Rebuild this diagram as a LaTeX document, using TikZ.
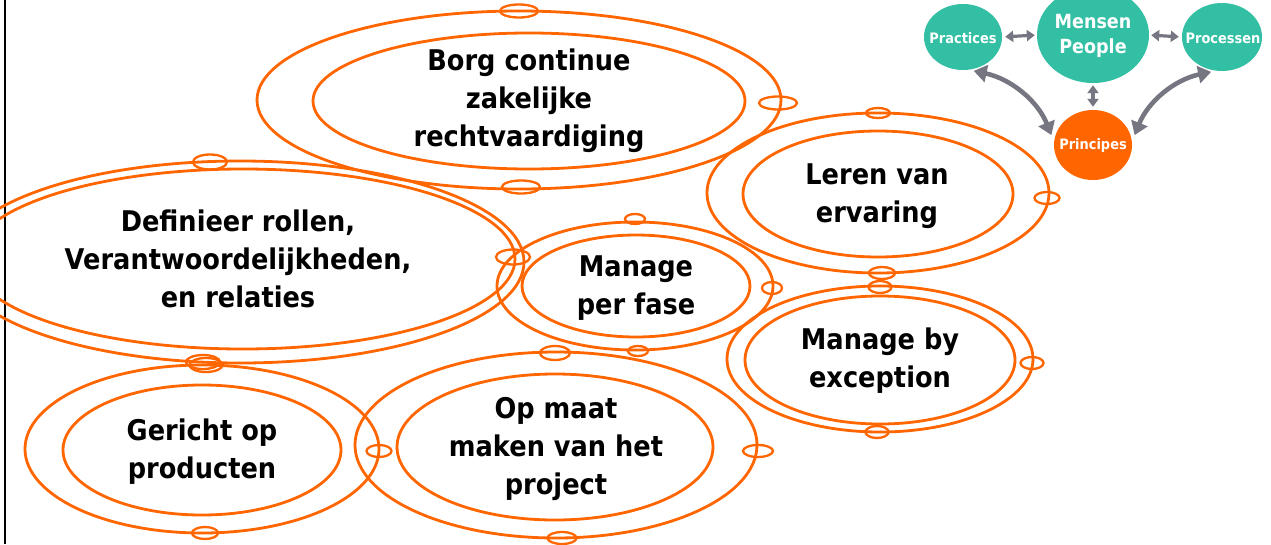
\documentclass[tikz,border=0pt]{standalone}
\usepackage{fontspec}
\setmainfont{DejaVu Sans}[FakeStretch=0.9]
\usetikzlibrary{shapes.geometric,arrows.meta}
\definecolor{orng}{RGB}{255,102,0}
\definecolor{tealc}{RGB}{50,191,164}
\definecolor{arrg}{RGB}{118,118,130}
\begin{document}
\begin{tikzpicture}[x=1pt,y=-1pt,
  oval/.style 2 args={draw=orng,line width=2.8pt,ellipse,inner sep=0pt,minimum width=#1,minimum height=#2},
  tiny/.style 2 args={draw=orng,line width=2.3pt,ellipse,inner sep=0pt,minimum width=#1,minimum height=#2},
  lbl/.style={text=black,align=center,font=\bfseries\fontsize{28.5}{38}\selectfont,inner sep=0pt},
  bub/.style 2 args={fill=#1,ellipse,inner sep=0pt,minimum width=#2},
  btxt/.style={text=white,align=center,font=\bfseries\fontsize{14.4}{18}\selectfont},
  arrA/.style={draw=arrg,line width=4.6pt,{Triangle[length=13pt,width=17pt]}-{Triangle[length=13pt,width=17pt]}},
  arrB/.style={draw=arrg,line width=3.2pt,{Triangle[length=8pt,width=11pt]}-{Triangle[length=8pt,width=11pt]}}]
\useasboundingbox (0,0) rectangle (1271,544);
\clip (0,0) rectangle (1271,544);
\fill[white] (0,0) rectangle (1271,544);
% left frame line
\coordinate (fT) at (5,0);
\coordinate (fB) at (5,544);
\draw[black,line width=2.5pt] (fT) -- (fB);

% Borg continue
\node[oval={524}{178}] (borgO) at (519,100) {};
\node[oval={432}{136}] (borgI) at (529,101) {};
\node[lbl] (borgT) at (529,101) {Borg continue\\zakelijke\\rechtvaardiging};
\node[tiny={38}{13}] (borgS1) at (519,11) {};
\node[tiny={38}{13}] (borgS2) at (778,103) {};
\node[tiny={38}{13}] (borgS3) at (521,187) {};

% Definieer rollen
\node[oval={568}{202}] (defO) at (240,262) {};
\node[oval={544}{180}] (defI) at (243,259) {};
\node[lbl] (defT) at (238,259) {Definieer rollen,\\Verantwoordelijkheden,\\en relaties};
\node[tiny={34}{15}] (defS1) at (210,162) {};
\node[tiny={34}{15}] (defS2) at (513,257) {};
\node[tiny={34}{14}] (defS3) at (203,362) {};

% Gericht op producten
\node[oval={354}{168}] (gerO) at (202,449) {};
\node[oval={278}{130}] (gerI) at (202,450) {};
\node[lbl] (gerT) at (202,452) {Gericht op\\producten};
\node[tiny={33}{14}] (gerS1) at (206,365) {};
\node[tiny={26}{12}] (gerS2) at (205,533) {};

% Op maat
\node[oval={402}{186}] (opO) at (556,445) {};
\node[oval={316}{146}] (opI) at (555,447) {};
\node[lbl] (opT) at (556,449) {Op maat\\maken van het\\project};
\node[tiny={30}{14}] (opS1) at (555,353) {};
\node[tiny={25}{12}] (opS2) at (379,451) {};
\node[tiny={30}{12}] (opS3) at (758,451) {};
\node[tiny={29}{12}] (opS4) at (562,538) {};

% Manage per fase
\node[oval={276}{128}] (mpO) at (635,286) {};
\node[oval={228}{102}] (mpI) at (636,286) {};
\node[lbl] (mpT) at (636,288) {Manage\\per fase};
\node[tiny={20}{10}] (mpS1) at (635,219) {};
\node[tiny={20}{12}] (mpS2) at (772,288) {};
\node[tiny={20}{10}] (mpS3) at (638,351) {};

% Leren van ervaring
\node[oval={342}{160}] (lrO) at (878,193) {};
\node[oval={270}{126}] (lrI) at (878,194) {};
\node[lbl] (lrT) at (877,196) {Leren van\\ervaring};
\node[tiny={24}{10}] (lrS1) at (878,113) {};
\node[tiny={25}{12}] (lrS2) at (1047,198) {};
\node[tiny={26}{12}] (lrS3) at (882,273) {};

% Manage by exception
\node[oval={306}{146}] (mbO) at (880,359) {};
\node[oval={270}{128}] (mbI) at (880,360) {};
\node[lbl] (mbT) at (880,361) {Manage by\\exception};
\node[tiny={23}{12}] (mbS1) at (880,287) {};
\node[tiny={23}{12}] (mbS2) at (1032,363) {};
\node[tiny={23}{12}] (mbS3) at (877,432) {};

% top-right cluster
\node[bub={tealc}{78},minimum height=66] (prac) at (963,37) {};
\node[btxt] (pracT) at (963,38) {Practices};
\node[bub={tealc}{112},minimum height=96] (mens) at (1093,35) {};
\node[btxt,font=\bfseries\fontsize{19.5}{25}\selectfont] (mensT) at (1093,36) {Mensen\\People};
\node[bub={tealc}{80},minimum height=68] (proc) at (1222,37) {};
\node[btxt] (procT) at (1223,38) {Processen};
\node[bub={orng}{78},minimum height=70] (prin) at (1093,145) {};
\node[btxt] (prinT) at (1093,146) {Principes};

\draw[arrB,shorten <=3pt,shorten >=2pt] (prac.east) -- (mens.west);
\draw[arrB,shorten <=2pt,shorten >=3pt] (mens.east) -- (proc.west);
\draw[arrB,shorten <=2pt,shorten >=3pt] (mens.south) -- (prin.north);
\draw[arrA,shorten <=5pt,shorten >=7pt] (prac.-80) to[bend left=28] (prin.175);
\draw[arrA,shorten <=5pt,shorten >=7pt] (proc.-100) to[bend right=28] (prin.5);
\end{tikzpicture}
\end{document}
